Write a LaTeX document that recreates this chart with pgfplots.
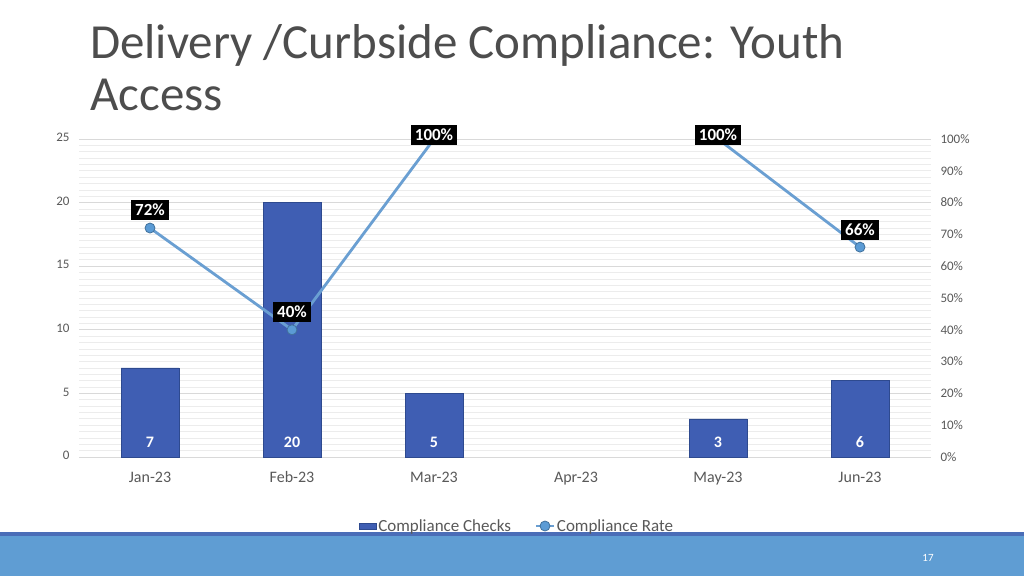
\documentclass[border=0pt]{standalone}
\usepackage{fontspec}
\setmainfont{Carlito}
\usepackage{pgfplots}
\pgfplotsset{compat=1.18}

\definecolor{barblue}{HTML}{3F5EB3}
\definecolor{baredge}{HTML}{2E4A8F}
\definecolor{lineblue}{HTML}{6A9FD2}
\definecolor{markblue}{HTML}{5B9BD5}
\definecolor{markedge}{HTML}{41719C}
\definecolor{titlegray}{HTML}{4D4D4D}
\definecolor{tickgray}{HTML}{595959}
\definecolor{gridmajor}{HTML}{D9D9D9}
\definecolor{gridminor}{HTML}{ECECEC}
\definecolor{bandblue}{HTML}{5F9DD3}
\definecolor{stripblue}{HTML}{4A6DB7}

\begin{document}
\begin{tikzpicture}[x=1pt,y=1pt]
% slide background, footer band, title
\fill[white] (0,0) rectangle (1024,576);
\fill[bandblue] (0,0) rectangle (1024,40);
\fill[stripblue] (0,40) rectangle (1024,44);
\node[text=white, font=\fontsize{11}{13}\selectfont] at (928,18) {17};
\node[anchor=base west, inner sep=0pt, text=titlegray, font=\fontsize{49}{52}\selectfont]
  at (90,517) {Delivery /Curbside Compliance: Youth};
\node[anchor=base west, inner sep=0pt, text=titlegray, font=\fontsize{49}{52}\selectfont]
  at (90,465) {Access};

% left axis: compliance checks (bars)
\begin{axis}[
    at={(79pt,119pt)}, anchor=south west,
    scale only axis, width=852pt, height=318pt,
    xmin=-0.5, xmax=5.5, ymin=0, ymax=25,
    clip=false,
    axis line style={draw=none},
    major tick length=0pt, minor tick length=0pt,
    xtick={0,1,2,3,4,5},
    xticklabels={Jan-23,Feb-23,Mar-23,Apr-23,May-23,Jun-23},
    typeset ticklabels with strut,
    ytick={0,5,10,15,20,25},
    minor ytick={0,0.5,...,25},
    ymajorgrids, yminorgrids,
    major grid style={draw=gridmajor, line width=0.9pt},
    minor grid style={draw=gridminor, line width=0.7pt},
    /pgf/number format/assume math mode=true,
    yticklabel style={font=\fontsize{13}{13}\selectfont, text=tickgray, xshift=-6pt},
    xticklabel style={font=\fontsize{16}{16}\selectfont, text=tickgray, yshift=-11pt},
]
\addplot[ybar, bar width=58pt, fill=barblue, draw=baredge, line width=0.6pt]
  coordinates {(0,7) (1,20) (2,5) (4,3) (5,6)};
\addplot[draw=none, mark=none, nodes near coords, point meta=explicit symbolic,
  nodes near coords style={text=white, anchor=center, yshift=15pt,
    font=\bfseries\fontsize{16}{16}\selectfont}]
  coordinates {(0,0) [7] (1,0) [20] (2,0) [5] (4,0) [3] (5,0) [6]};
\end{axis}

% right axis: compliance rate (line)
\begin{axis}[
    at={(79pt,119pt)}, anchor=south west,
    scale only axis, width=852pt, height=318pt,
    xmin=-0.5, xmax=5.5, ymin=0, ymax=100,
    clip=false,
    axis line style={draw=none},
    major tick length=0pt,
    xtick=\empty,
    ytick={0,10,...,100},
    yticklabel pos=right,
    yticklabel={\pgfmathprintnumber{\tick}\%},
    /pgf/number format/assume math mode=true,
    yticklabel style={font=\fontsize{13}{13}\selectfont, text=tickgray, xshift=6pt},
    legend style={at={(0.514,-0.217)}, anchor=center, draw=none, fill=none,
      legend columns=2, font=\fontsize{17}{17}\selectfont, text=tickgray,
      /tikz/every even column/.append style={column sep=22pt}},
    legend cell align=left,
]
\addlegendimage{area legend, fill=barblue, draw=baredge}
\addlegendentry{Compliance Checks}
\addplot[lineblue, line width=2.8pt, unbounded coords=jump,
  mark=*, mark size=5pt, mark options={fill=markblue, draw=markedge, line width=0.8pt}]
  coordinates {(0,72) (1,40) (2,100) (3,nan) (4,100) (5,66)};
\addlegendentry{Compliance Rate}
\addplot[forget plot, draw=none, mark=none, nodes near coords, point meta=explicit symbolic,
  nodes near coords style={fill=black, text=white, anchor=center, inner sep=4pt,
    font=\bfseries\fontsize{17}{17}\selectfont}]
  coordinates {(0,77.7) [72\%] (1,45.6) [40\%] (2,101.3) [100\%] (4,101.3) [100\%] (5,71.4) [66\%]};
\end{axis}
\end{tikzpicture}
\end{document}
